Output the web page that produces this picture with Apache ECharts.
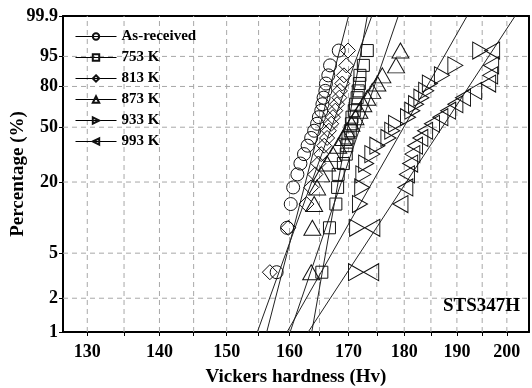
<!DOCTYPE html>
<html>
<head>
<meta charset="utf-8">
<script src="https://cdn.jsdelivr.net/npm/echarts@6/dist/echarts.min.js"></script>
<style>
  html, body { margin: 0; padding: 0; background: #fff; }
  #chart { width: 532px; height: 388px; }
</style>
</head>
<body>
<div id="chart"></div>
<script>
// Weibull plot: cumulative percentage vs Vickers hardness
const seriesNames = ['As-received', '753 K', '813 K', '873 K', '933 K', '993 K'];

// cumulative percentage of each ranked point (same for every series)
const percents = [3.4, 8.3, 13.2, 18.1, 23.0, 27.9, 32.8, 37.7, 42.6, 47.5,
                  52.5, 57.4, 62.3, 67.2, 72.1, 77.0, 81.9, 86.8, 91.7, 96.6];

const asReceived = [157.9, 159.6, 160.2, 160.6, 161.3, 161.8, 162.4, 163.0, 163.6, 164.1,
                    164.6, 164.9, 165.3, 165.5, 165.7, 166.0, 166.1, 166.5, 166.8, 168.3];
const k753 = [165.4, 166.7, 167.8, 168.1, 168.2, 169.1, 169.6, 169.7, 169.9, 170.3,
              170.5, 170.6, 171.0, 171.2, 171.5, 171.7, 171.9, 172.0, 172.6, 173.3];
const k813 = [156.8, 159.8, 162.8, 163.6, 164.3, 164.8, 165.3, 165.8, 166.3, 166.6,
              167.0, 167.3, 167.7, 168.0, 168.4, 168.5, 168.9, 169.2, 169.6, 169.9];
const k873 = [163.6, 163.8, 164.1, 164.6, 165.3, 166.3, 167.3, 168.2, 169.1, 169.7,
              170.5, 171.2, 171.9, 172.6, 173.3, 174.2, 175.1, 176.0, 178.5, 179.3];
const k933 = [171.3, 171.5, 172.0, 172.4, 172.6, 173.1, 174.2, 175.1, 177.1, 177.8,
              178.5, 180.7, 181.5, 182.2, 183.2, 184.1, 184.8, 187.1, 189.7, 194.6];
const k993 = [174.0, 174.2, 179.3, 180.2, 180.5, 181.1, 181.5, 182.0, 183.0, 183.9,
              185.2, 186.8, 188.3, 189.7, 191.2, 193.4, 196.2, 196.6, 196.8, 197.0];

// fitted lines: hardness at 1 % and at 99.9 %
const fitAt1 = [156.3, 163.7, 154.8, 160.1, 159.6, 163.1];
const fitAt999 = [170.0, 173.3, 174.1, 178.9, 192.0, 201.7];

const yTicks = [1, 2, 5, 20, 50, 80, 95, 99.9];
const xTicks = [130, 135, 140, 145, 150, 155, 160, 165, 170, 175, 180, 185, 190, 195, 200];
const xLabels = [130, 140, 150, 160, 170, 180, 190, 200];
const xRange = [126.8, 204.6];

const hardness = [asReceived, k753, k813, k873, k933, k993];
const symbols = ['circle', 'rect', 'diamond', 'triangle', 'triangle', 'triangle'];
const symbolSizes = [13, 12, 15, [17, 15], [17, 15], [17, 15]];
const symbolRotates = [0, 0, 0, 0, -90, 90];

const FONT = 'Liberation Serif';
const wb = p => Math.log(-Math.log(1 - p / 100));
const yMin = wb(yTicks[0]);
const yMax = wb(yTicks[yTicks.length - 1]);
const xMin = Math.log(xRange[0]);
const xMax = Math.log(xRange[1]);
const frame = () => ({ show: true, onZero: false, lineStyle: { color: '#000', width: 2 } });

// grid line segments in axis values
const gridSegments = xTicks.map(t => [[Math.log(t), yMin], [Math.log(t), yMax]])
    .concat(yTicks.slice(1, -1).map(t => [[xMin, wb(t)], [xMax, wb(t)]]));

const series = [];
gridSegments.forEach((seg, i) => {
    series.push({
        name: 'grid' + i,
        type: 'line',
        symbol: 'none',
        z: 2,
        data: seg,
        lineStyle: { color: '#a8a8a8', width: 1, type: [5, 4] },
        emphasis: { disabled: true }
    });
});
hardness.forEach((vals, i) => {
    series.push({
        name: seriesNames[i] + ' fit',
        type: 'line',
        data: [[Math.log(fitAt1[i]), yMin], [Math.log(fitAt999[i]), yMax]],
        symbol: 'none',
        lineStyle: { color: '#222', width: 1 },
        z: 3
    });
});
hardness.forEach((vals, i) => {
    series.push({
        name: seriesNames[i],
        type: 'line',
        data: vals.map((h, k) => [Math.log(h), wb(percents[k])]),
        symbol: symbols[i],
        symbolSize: symbolSizes[i],
        symbolRotate: symbolRotates[i],
        showSymbol: true,
        showAllSymbol: true,
        lineStyle: { opacity: 0 },
        itemStyle: { color: 'transparent', borderColor: '#111', borderWidth: 1 },
        z: 4
    });
});

const option = {
    animation: false,
    backgroundColor: '#fff',
    title: {
        text: 'STS347H',
        right: 12,
        top: 297,
        padding: 0,
        textStyle: { fontFamily: FONT, fontWeight: 'bold', fontSize: 19, color: '#000' }
    },
    legend: {
        orient: 'vertical',
        left: 75,
        top: 29,
        padding: 0,
        itemGap: 6,
        itemWidth: 41,
        itemHeight: 8,
        data: seriesNames,
        lineStyle: { color: '#000', width: 1, opacity: 1 },
        textStyle: { fontFamily: FONT, fontWeight: 'bold', fontSize: 15, color: '#000' }
    },
    grid: {
        left: 63, right: 3, top: 16, bottom: 56,
        outerBoundsMode: 'none',
        containLabel: false,
        show: false
    },
    xAxis: [{
        type: 'value',
        min: xMin,
        max: xMax,
        name: 'Vickers hardness (Hv)',
        nameLocation: 'middle',
        nameGap: 36,
        nameMoveOverlap: false,
        nameTextStyle: { fontFamily: FONT, fontWeight: 'bold', fontSize: 19, color: '#000' },
        axisLine: frame(),
        axisTick: { show: true, inside: false, length: 4, customValues: xTicks.map(Math.log),
                    lineStyle: { color: '#000', width: 1 } },
        axisLabel: {
            customValues: xLabels.map(Math.log),
            margin: 11,
            formatter: v => String(Math.round(Math.exp(v))),
            fontFamily: FONT, fontWeight: 'bold', fontSize: 18, color: '#000'
        },
        splitLine: { show: false }
    }, {
        type: 'value', position: 'top', min: xMin, max: xMax,
        axisLine: frame(), axisTick: { show: false }, axisLabel: { show: false },
        splitLine: { show: false }
    }],
    yAxis: [{
        type: 'value',
        min: yMin,
        max: yMax,
        name: 'Percentage (%)',
        nameLocation: 'middle',
        nameGap: 35,
        nameMoveOverlap: false,
        nameTextStyle: { fontFamily: FONT, fontWeight: 'bold', fontSize: 19, color: '#000' },
        axisLine: frame(),
        axisTick: { show: true, inside: false, length: 4, customValues: yTicks.map(wb),
                    lineStyle: { color: '#000', width: 1 } },
        axisLabel: {
            customValues: yTicks.map(wb),
            margin: 5,
            formatter: v => {
                let best = yTicks[0];
                yTicks.forEach(t => { if (Math.abs(wb(t) - v) < Math.abs(wb(best) - v)) best = t; });
                return String(best);
            },
            fontFamily: FONT, fontWeight: 'bold', fontSize: 18, color: '#000'
        },
        splitLine: { show: false }
    }, {
        type: 'value', position: 'right', min: yMin, max: yMax,
        axisLine: frame(), axisTick: { show: false }, axisLabel: { show: false },
        splitLine: { show: false }
    }],
    series: series
};

echarts.init(document.getElementById('chart')).setOption(option);
</script>
</body>
</html>
